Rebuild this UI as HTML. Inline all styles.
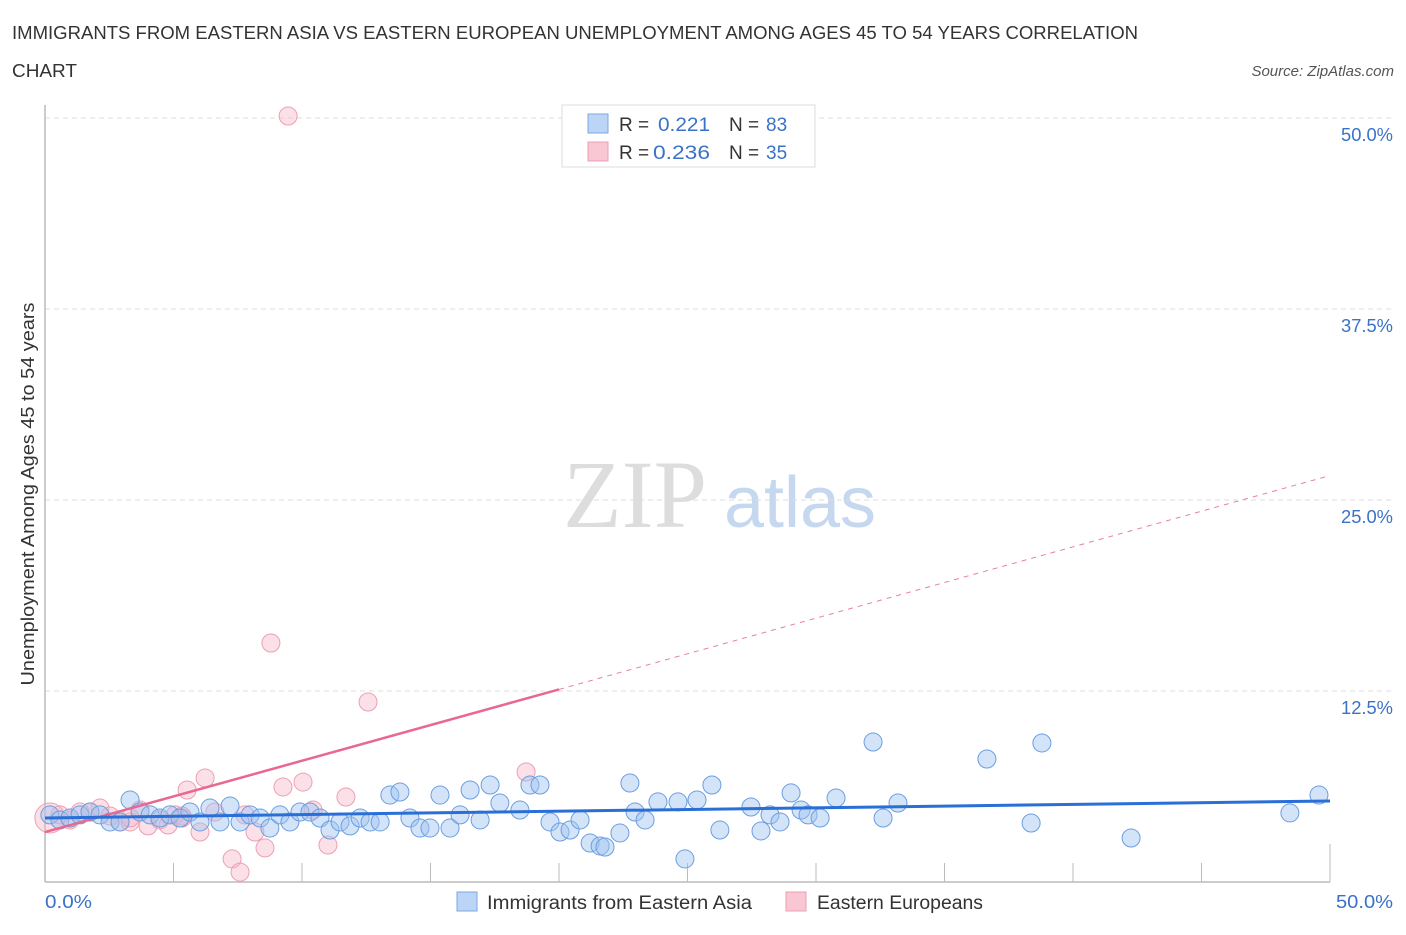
<!DOCTYPE html>
<html><head><meta charset="utf-8"><style>
body{margin:0;background:#fff;font-family:"Liberation Sans",sans-serif;}
svg text{font-family:"Liberation Sans",sans-serif;}
</style></head><body>
<svg id="chart" width="1406" height="930">
<text x="12" y="39" font-size="18" fill="#333" textLength="1126" lengthAdjust="spacingAndGlyphs">IMMIGRANTS FROM EASTERN ASIA VS EASTERN EUROPEAN UNEMPLOYMENT AMONG AGES 45 TO 54 YEARS CORRELATION</text>
<text x="12" y="77" font-size="18" fill="#333" textLength="65" lengthAdjust="spacingAndGlyphs">CHART</text>
<text x="1394" y="76" font-size="15" fill="#555" font-style="italic" text-anchor="end">Source: ZipAtlas.com</text>
<text x="0" y="0" transform="translate(34,494) rotate(-90)" font-size="18" fill="#333" text-anchor="middle" textLength="383" lengthAdjust="spacingAndGlyphs">Unemployment Among Ages 45 to 54 years</text>
<g>
<text x="635" y="527" font-size="96" fill="#ddd" text-anchor="middle" style="font-family:'Liberation Serif',serif">ZIP</text>
<text x="800" y="527" font-size="72" fill="#c5d8f0" text-anchor="middle">atlas</text>
</g>
<g id="grid"></g><g id="axes"></g><g id="marks"></g>
<g>
<rect x="562" y="105" width="253" height="62" fill="#fff" stroke="#ddd"/>
<rect x="588" y="114" width="20" height="19" fill="#bcd4f5" stroke="#7ba7e0"/>
<rect x="588" y="142" width="20" height="19" fill="#f9c6d4" stroke="#ec9fb4"/>
<text x="619" y="131" font-size="19" fill="#333">R = </text><text x="658" y="131" font-size="19" fill="#3a72c8" textLength="52" lengthAdjust="spacingAndGlyphs">0.221</text>
<text x="729" y="131" font-size="19" fill="#333">N = </text><text x="766" y="131" font-size="19" fill="#3a72c8">83</text>
<text x="619" y="159" font-size="19" fill="#333">R = </text><text x="653" y="159" font-size="19" fill="#3a72c8" textLength="57" lengthAdjust="spacingAndGlyphs">0.236</text>
<text x="729" y="159" font-size="19" fill="#333">N = </text><text x="766" y="159" font-size="19" fill="#3a72c8">35</text>
</g>
<g>
<rect x="457" y="892" width="20" height="19" fill="#bcd4f5" stroke="#7ba7e0"/>
<text x="487" y="909" font-size="19" fill="#333" textLength="265" lengthAdjust="spacingAndGlyphs">Immigrants from Eastern Asia</text>
<rect x="786" y="892" width="20" height="19" fill="#f9c6d4" stroke="#ec9fb4"/>
<text x="817" y="909" font-size="19" fill="#333" textLength="166" lengthAdjust="spacingAndGlyphs">Eastern Europeans</text>
</g>
</svg>
<script>
const yTicks=[12.5,25,37.5,50];
const yTickLabels=["12.5%","25.0%","37.5%","50.0%"];
const xTickLabels=["0.0%","50.0%"];
const blueX=[0.19,0.58,0.97,1.36,1.75,2.14,2.53,2.92,3.31,3.70,4.09,4.47,4.86,5.25,5.64,6.03,6.42,6.81,7.2,7.59,7.98,8.37,8.75,9.14,9.53,9.92,10.31,10.7,11.09,11.48,11.87,12.26,12.65,13.04,13.42,13.81,14.2,14.59,14.98,15.37,15.76,16.15,16.54,16.93,17.32,17.7,18.87,18.48,19.26,19.65,20.04,20.43,20.82,21.21,21.6,21.79,22.37,22.76,22.96,23.35,23.85,24.63,24.9,25.37,25.95,26.26,27.47,27.86,28.21,28.6,29.03,29.42,29.69,30.16,30.78,32.22,32.61,33.19,36.65,38.37,38.79,42.26,48.44,49.57];
const blueY=[4.39,4.06,4.19,4.39,4.58,4.39,3.93,3.93,5.37,4.58,4.39,4.19,4.39,4.19,4.58,3.93,4.84,3.93,4.97,3.93,4.39,4.19,3.53,4.39,3.93,4.58,4.58,4.19,3.40,3.93,3.67,4.19,3.93,3.93,5.69,5.89,4.19,3.53,3.53,5.69,3.53,4.39,6.02,4.06,6.35,5.17,6.35,4.71,6.35,3.93,3.27,3.40,4.06,2.55,2.36,2.29,3.21,6.48,4.58,4.06,5.24,5.24,1.51,5.37,6.35,3.40,4.91,3.34,4.39,3.93,5.83,4.71,4.39,4.19,5.50,9.16,4.19,5.17,8.05,3.86,9.10,2.88,4.52,5.69];
const pinkX=[0.19,0.58,0.97,1.75,2.14,2.53,2.92,3.31,3.70,4.01,4.47,4.79,5.06,5.33,5.53,6.03,6.23,6.61,7.28,7.59,7.78,8.17,8.56,8.79,9.26,9.46,10.04,10.43,11.01,11.71,12.57,18.72,5.33,3.31,1.36];
const pinkY=[4.19,4.39,4.06,4.58,4.84,4.32,3.93,3.93,4.71,3.67,4.06,3.73,4.39,4.32,6.02,3.27,6.81,4.58,1.51,0.65,4.39,3.27,2.23,15.64,6.22,50.13,6.54,4.71,2.42,5.56,11.78,7.20,4.19,4.19,4.58];
const blueTrend=[4.19,5.30];
const pinkTrend=[3.27,26.6];
const NS="http://www.w3.org/2000/svg";
const X0=45,X1=1330,Y0=882,Y1=118;
const sx=v=>X0+(X1-X0)*v/50;
const sy=v=>Y0-(Y0-Y1)*v/50;
function mk(t,a,p){const e=document.createElementNS(NS,t);for(const k in a)e.setAttribute(k,a[k]);p.appendChild(e);return e;}
const grid=document.getElementById('grid'),axes=document.getElementById('axes'),marks=document.getElementById('marks');
yTicks.forEach((t,i)=>{
 const l=mk('line',{x1:X0,x2:1392,y1:sy(t),y2:sy(t),stroke:'#ddd','stroke-dasharray':'5,4'},grid);
 
 
 const tx=mk('text',{x:1393,y:sy(t)+23,'font-size':18,fill:'#3a72c8','text-anchor':'end',textLength:52,lengthAdjust:'spacingAndGlyphs'},axes);
 tx.textContent=yTickLabels[i];
 
 
});
const xa=mk('line',{x1:X0,x2:X1,y1:Y0,y2:Y0,stroke:'#bbb','stroke-width':1.5},axes);


const ya=mk('line',{x1:X0,x2:X0,y1:105,y2:Y0,stroke:'#bbb','stroke-width':1.5},axes);


for(let i=1;i<=10;i++){const v=i*5;const t=mk('line',{x1:sx(v),x2:sx(v),y1:Y0,y2:Y0-(i==10?38:19),stroke:'#bbb'},axes);
 
 }
const xl0=mk('text',{x:45,y:908,'font-size':18,fill:'#3a72c8',textLength:47,lengthAdjust:'spacingAndGlyphs'},axes);xl0.textContent=xTickLabels[0];


const xl1=mk('text',{x:1393,y:908,'font-size':18,fill:'#3a72c8','text-anchor':'end',textLength:57,lengthAdjust:'spacingAndGlyphs'},axes);xl1.textContent=xTickLabels[1];


pinkX.forEach((x,i)=>{const c=mk('circle',{cx:sx(x),cy:sy(pinkY[i]),r:i==0?15:9,fill:'rgba(247,178,198,0.4)',stroke:'#ec9fb4','stroke-width':1},marks);
 
 });
blueX.forEach((x,i)=>{const c=mk('circle',{cx:sx(x),cy:sy(blueY[i]),r:9,fill:'rgba(160,196,240,0.45)',stroke:'#6b9ee0','stroke-width':1},marks);
 
 });
const pv=x=>pinkTrend[0]+(pinkTrend[1]-pinkTrend[0])*x/50;
const ps=mk('line',{x1:sx(0),y1:sy(pv(0)),x2:sx(20),y2:sy(pv(20)),stroke:'#e8688f','stroke-width':2.5},marks);


const pd=mk('line',{x1:sx(20),y1:sy(pv(20)),x2:sx(50),y2:sy(pv(50)),stroke:'#e8809f','stroke-width':1,'stroke-dasharray':'5,5'},marks);


const bl=mk('line',{x1:sx(0),y1:sy(blueTrend[0]),x2:sx(50),y2:sy(blueTrend[1]),stroke:'#2a6fd6','stroke-width':3},marks);


</script>
</body></html>
